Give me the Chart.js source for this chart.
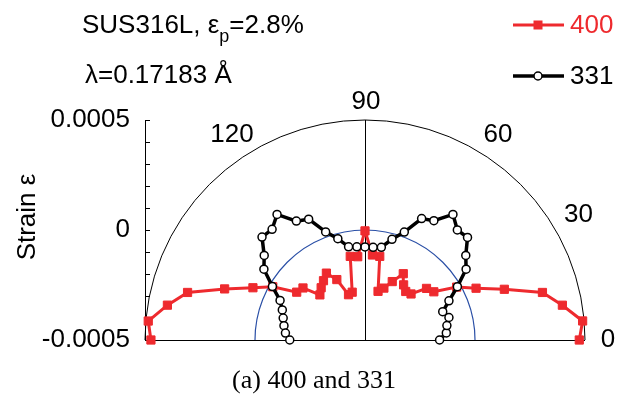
<!DOCTYPE html>
<html>
<head>
<meta charset="utf-8">
<script src="https://cdn.jsdelivr.net/npm/chart.js@4.4.1/dist/chart.umd.min.js"></script>
<style>
  html, body { margin: 0; padding: 0; background: #ffffff; }
  #wrap { width: 629px; height: 403px; }
</style>
</head>
<body>
<div id="wrap"><canvas id="c" width="629" height="403"></canvas></div>
<script>
// Measurement angles (degrees, polar direction in the sample plane)
const angles = [0, 5, 10, 15, 20, 25, 30, 35, 40, 45, 50, 55, 60, 65, 70, 75, 80, 85, 90,
                95, 100, 105, 110, 115, 120, 125, 130, 135, 140, 145, 150, 155, 160, 165, 170, 175, 180];

// Lattice strain of the 400 reflection at each angle
const strain400 = [0.000474, 0.000493, 0.000411, 0.000335, 0.000174, 0.000057, -0.000019, -0.000118,
                   -0.000135, -0.000204, -0.000212, -0.000194, -0.000152, -0.000207, -0.000249, -0.000271,
                   -0.000114, -0.000112, -0.000004, -0.000120, -0.000114, -0.000275, -0.000281, -0.000197,
                   -0.000149, -0.000171, -0.000190, -0.000210, -0.000132, -0.000121, -0.000016, 0.000062,
                   0.000179, 0.000335, 0.000412, 0.000489, 0.000473];

// Lattice strain of the 331 reflection at each angle
const strain331 = [-0.000161, -0.000129, -0.000122, -0.000105, -0.000124, -0.000079, -0.000015, 0.000061,
                   0.000098, 0.000159, 0.000153, 0.000197, 0.000126, 0.000109, 0.000022, -0.000026,
                   -0.000072, -0.000077, -0.000077, -0.000075, -0.000070, -0.000023, 0.000023, 0.000106,
                   0.000124, 0.000197, 0.000157, 0.000162, 0.000098, 0.000061, -0.000014, -0.000074,
                   -0.000100, -0.000115, -0.000126, -0.000137, -0.000158];

// Radial axis: strain range, labelled values, angle labels on the rim
const strainMin = -0.0005;
const strainMax = 0.0005;
const strainLabels = [-0.0005, 0, 0.0005];
const angleLabels = [0, 30, 60, 90, 120];

const RED = 'rgb(238,42,46)';
const BLUE = '#2a4fa6';
const SANS = "'Liberation Sans', Arial, Helvetica, sans-serif";
const SERIF = "'Liberation Serif', 'Times New Roman', serif";

// Polar (angle, strain) -> plane coordinates, strainMin sits at the pole
function toXY(angs, strains) {
  return angs.map((a, i) => {
    const r = strains[i] - strainMin;
    const t = a * Math.PI / 180;
    return { x: r * Math.cos(t), y: r * Math.sin(t) + strainMin };
  });
}

const polarFrame = {
  id: 'polarFrame',
  beforeDatasetsDraw(chart) {
    const { ctx, scales: { x, y } } = chart;
    const cx = x.getPixelForValue(0);
    const cy = y.getPixelForValue(strainMin);
    const R = x.getPixelForValue(strainMax - strainMin) - cx;
    const R0 = x.getPixelForValue(0 - strainMin) - cx;
    ctx.save();
    // outer rim
    ctx.strokeStyle = '#000';
    ctx.lineWidth = 1;
    ctx.beginPath();
    ctx.arc(cx, cy, R, Math.PI, 2 * Math.PI);
    ctx.stroke();
    // zero-strain circle
    ctx.strokeStyle = BLUE;
    ctx.lineWidth = 1.2;
    ctx.beginPath();
    ctx.arc(cx, cy, R0, Math.PI, 2 * Math.PI);
    ctx.stroke();
    // baseline and 90 degree spoke
    ctx.strokeStyle = '#000';
    ctx.lineWidth = 1;
    ctx.beginPath();
    ctx.moveTo(cx - R, cy + 0.5);
    ctx.lineTo(cx + R, cy + 0.5);
    ctx.moveTo(Math.round(cx) + 0.5, cy);
    ctx.lineTo(Math.round(cx) + 0.5, cy - R);
    ctx.stroke();
    // inward ticks on the strain axis
    const left = Math.round(y.left + y.width) + 0.5;
    ctx.beginPath();
    y.ticks.forEach(t => {
      const py = Math.round(y.getPixelForValue(t.value)) + 0.5;
      ctx.moveTo(left, py);
      ctx.lineTo(left + 4.5, py);
    });
    ctx.stroke();
    ctx.restore();
  },
  afterDraw(chart) {
    const { ctx, scales: { x, y } } = chart;
    const cx = x.getPixelForValue(0);
    const cy = y.getPixelForValue(strainMin);
    const R = x.getPixelForValue(strainMax - strainMin) - cx;
    ctx.save();
    ctx.fillStyle = '#000';
    ctx.font = '26px ' + SANS;
    ctx.textAlign = 'center';
    ctx.textBaseline = 'middle';
    // angle labels just outside the rim, pushed away from it by quadrant
    angleLabels.forEach(a => {
      const t = a * Math.PI / 180;
      const c = Math.cos(t), s = Math.sin(t);
      const dx = Math.abs(c) < 0.01 ? 1 : (c > 0 ? 23 : -23);
      const dy = a === 0 ? -1 : (Math.abs(c) < 0.01 ? -19 : -16);
      ctx.fillText(String(a), cx + R * c + dx, cy - R * s + dy + 1);
    });
    // axis name
    ctx.save();
    ctx.translate(28, 217);
    ctx.rotate(-Math.PI / 2);
    ctx.fillText('Strain \u03b5', 0, 0);
    ctx.restore();
    // header
    ctx.textAlign = 'left';
    ctx.textBaseline = 'alphabetic';
    let px = 82;
    const part1 = 'SUS316L, \u03b5';
    ctx.fillText(part1, px, 33);
    px += ctx.measureText(part1).width;
    ctx.font = '18px ' + SANS;
    ctx.fillText('p', px, 42);
    px += ctx.measureText('p').width;
    ctx.font = '26px ' + SANS;
    ctx.fillText('=2.8%', px, 33);
    ctx.fillText('\u03bb=0.17183 \u00c5', 85, 83);
    // legend
    const items = [
      { ds: chart.data.datasets[0], y: 25 },
      { ds: chart.data.datasets[1], y: 76 }
    ];
    items.forEach(it => {
      const ds = it.ds;
      ctx.strokeStyle = ds.borderColor;
      ctx.lineWidth = ds.borderWidth;
      ctx.beginPath();
      ctx.moveTo(513, it.y);
      ctx.lineTo(564, it.y);
      ctx.stroke();
      if (ds.pointStyle === 'rect') {
        ctx.fillStyle = ds.pointBackgroundColor;
        ctx.fillRect(538 - 4.5, it.y - 4.5, 9, 9);
      } else {
        ctx.fillStyle = '#fff';
        ctx.lineWidth = 1.5;
        ctx.beginPath();
        ctx.arc(538, it.y, 4, 0, 2 * Math.PI);
        ctx.fill();
        ctx.stroke();
      }
      ctx.fillStyle = ds.borderColor;
      ctx.textBaseline = 'middle';
      ctx.fillText(ds.label, 570, it.y + 1);
    });
    // caption
    ctx.fillStyle = '#000';
    ctx.font = '26px ' + SERIF;
    ctx.textAlign = 'center';
    ctx.textBaseline = 'middle';
    ctx.fillText('(a) 400 and 331', 314, 381);
    ctx.restore();
  }
};

new Chart(document.getElementById('c'), {
  type: 'scatter',
  data: {
    datasets: [
      {
        label: '400',
        data: toXY(angles, strain400),
        showLine: true,
        borderColor: RED,
        borderWidth: 3,
        pointStyle: 'rect',
        pointRadius: 5.8,
        pointBorderWidth: 1,
        pointBackgroundColor: RED,
        pointBorderColor: RED,
        clip: false,
        order: 2
      },
      {
        label: '331',
        data: toXY(angles, strain331),
        showLine: true,
        borderColor: '#000',
        borderWidth: 3.5,
        pointStyle: 'circle',
        pointRadius: 4,
        pointBorderWidth: 1.5,
        pointBackgroundColor: '#fff',
        pointBorderColor: '#000',
        clip: false,
        order: 1
      }
    ]
  },
  options: {
    responsive: false,
    devicePixelRatio: 1,
    animation: false,
    events: [],
    layout: { padding: { left: 0, right: 44, top: 120, bottom: 63 } },
    plugins: { legend: { display: false }, tooltip: { enabled: false }, title: { display: false } },
    scales: {
      x: {
        type: 'linear',
        display: false,
        min: -(strainMax - strainMin),
        max: strainMax - strainMin
      },
      y: {
        type: 'linear',
        min: strainMin,
        max: strainMax,
        afterFit(scale) { scale.width = 145; },
        grid: { display: false, drawTicks: false },
        border: { display: true, color: '#000', width: 1 },
        ticks: {
          stepSize: 0.0001,
          padding: 15,
          color: '#000',
          font: { family: SANS, size: 26 },
          autoSkip: false,
          maxRotation: 0,
          callback(v) {
            const hit = strainLabels.find(s => Math.abs(s - v) < 1e-9);
            return hit === undefined ? '' : String(hit);
          }
        }
      }
    }
  },
  plugins: [polarFrame]
});
</script>
</body>
</html>
